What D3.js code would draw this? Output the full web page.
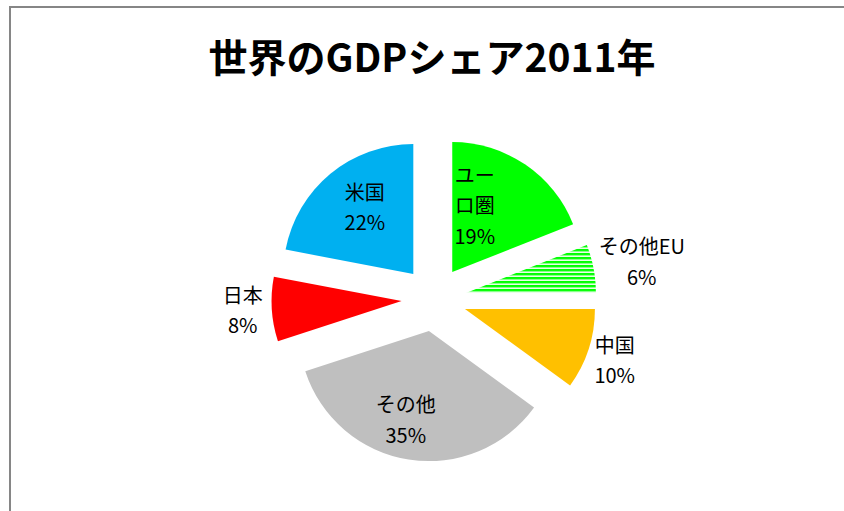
<!DOCTYPE html>
<html>
<head>
<meta charset="utf-8">
<script src="https://cdn.jsdelivr.net/npm/d3@7"></script>
<style>
  html, body { margin: 0; padding: 0; background: #fff; }
  svg { display: block; }
</style>
</head>
<body>
<div id="chart"></div>
<script>
// World GDP share 2011 - exploded pie
const categories = ['ユーロ圏', 'その他EU', '中国', 'その他', '日本', '米国'];
const shares = [19, 6, 10, 35, 8, 22];
const labelLines = [['ユー', 'ロ圏'], ['その他EU'], ['中国'], ['その他'], ['日本'], ['米国']];
const fills = ['#00ff00', 'url(#hatch)', '#ffc000', '#bfbfbf', '#ff0000', '#00b0f0'];

(function () {
  const width = 844;
  const height = 511;
  const cx = 434, cy = 299;
  const radius = 130;
  const explode = 32.5;
  const lineH = 30.5;

  // label nudges from slice centroid (text layout only)
  const nudge = {
    'ユーロ圏': [-14, -12],
    'その他EU': [112, -18],
    '中国': [88, 32],
    'その他': [-13, 25],
    '日本': [-94, 6],
    '米国': [-7, -16]
  };

  const svg = d3.select('#chart')
    .append('svg')
    .attr('width', width)
    .attr('height', height);

  const defs = svg.append('defs');
  const pat = defs.append('pattern')
    .attr('id', 'hatch')
    .attr('patternUnits', 'userSpaceOnUse')
    .attr('width', 8)
    .attr('height', 4);
  pat.append('rect').attr('width', 8).attr('height', 4).attr('fill', '#fff');
  pat.append('rect').attr('y', 0).attr('width', 8).attr('height', 2.5).attr('fill', '#00ff00');

  // frame
  svg.append('path')
    .attr('d', `M10,${height} L10,7 L${width},7`)
    .attr('fill', 'none')
    .attr('stroke', '#868686')
    .attr('stroke-width', 2);

  svg.append('text')
    .attr('x', 432)
    .attr('y', 72)
    .attr('text-anchor', 'middle')
    .attr('font-family', '"Noto Sans CJK JP", sans-serif')
    .attr('font-weight', 700)
    .attr('font-size', 39)
    .attr('fill', '#000')
    .text('世界のGDPシェア2011年');

  const data = categories.map((c, i) => ({ name: c, value: shares[i], lines: labelLines[i], fill: fills[i] }));

  const pie = d3.pie().sort(null).value((d) => d.value);
  const arc = d3.arc().innerRadius(0).outerRadius(radius);

  const arcs = pie(data);

  const g = svg.append('g').attr('transform', `translate(${cx},${cy})`);

  const slice = g.selectAll('g.slice')
    .data(arcs)
    .enter()
    .append('g')
    .attr('class', 'slice')
    .attr('transform', (d) => {
      const a = (d.startAngle + d.endAngle) / 2;
      return `translate(${Math.sin(a) * explode},${-Math.cos(a) * explode})`;
    });

  slice.append('path')
    .attr('d', arc)
    .attr('fill', (d) => d.data.fill);

  const label = slice.append('text')
    .attr('text-anchor', 'middle')
    .attr('font-family', '"Noto Sans CJK JP", sans-serif')
    .attr('font-weight', 400)
    .attr('font-size', 20)
    .attr('fill', '#000')
    .attr('transform', (d) => {
      const c = arc.centroid(d);
      const n = nudge[d.data.name];
      return `translate(${c[0] + n[0]},${c[1] + n[1]})`;
    });

  label.each(function (d) {
    const lines = d.data.lines.concat([d.data.value + '%']);
    const t = d3.select(this);
    const top = -(lines.length - 1) * lineH / 2;
    lines.forEach((ln, i) => {
      t.append('tspan')
        .attr('x', 0)
        .attr('y', top + i * lineH)
        .attr('dy', '0.35em')
        .text(ln);
    });
  });
})();
</script>
</body>
</html>
